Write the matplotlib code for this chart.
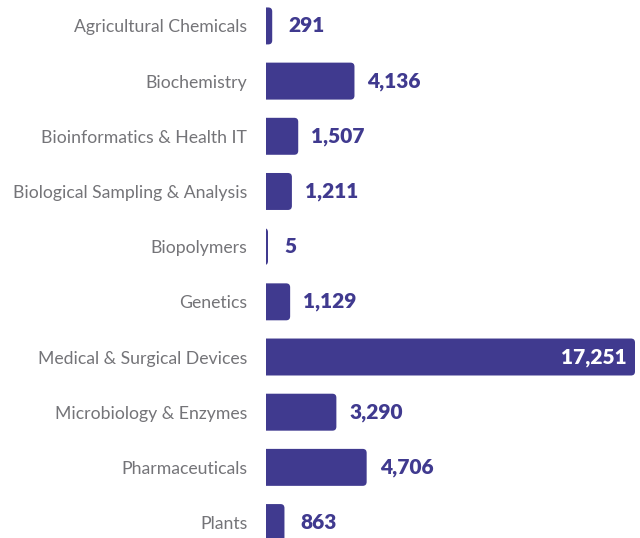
import matplotlib.pyplot as plt
from matplotlib.patches import FancyBboxPatch

purple = "#403a8f"
grey = "#747478"

categories = ["Agricultural Chemicals", "Biochemistry", "Bioinformatics & Health IT",
              "Biological Sampling & Analysis", "Biopolymers", "Genetics",
              "Medical & Surgical Devices", "Microbiology & Enzymes",
              "Pharmaceuticals", "Plants"]
counts = [291, 4136, 1507, 1211, 5, 1129, 17251, 3290, 4706, 863]

plt.rcParams['font.family'] = ['Lato', 'DejaVu Sans']

fig = plt.figure(figsize=(6.4, 5.38), dpi=100)
ax = fig.add_axes([266/640, 0, 374/640, 1])

ypos = list(range(len(categories)))
bar_h = 0.67
xmax = max(counts) * 374 / 369
ax.set_xlim(0, xmax)
ax.set_ylim(9.28, -0.47)

# rounded right corners: box starts left of 0 so the left rounding is clipped
px_x = xmax / 374
px_y = 1 / 55.2
rad = 4 * px_x
for y, v in zip(ypos, counts):
    width = max(v, 2 * px_x)
    box = FancyBboxPatch((-rad * 2, y - bar_h / 2), width + rad * 2, bar_h,
                         boxstyle=f"round,pad=0,rounding_size={rad}",
                         mutation_aspect=px_y / px_x,
                         facecolor=purple, edgecolor="none")
    ax.add_patch(box)
    if v == max(counts):
        ax.annotate(f"{v:,}", (v, y), xytext=(-8, 0), textcoords="offset pixels",
                    ha="right", va="center", color="white", fontsize=15,
                    fontweight="heavy")
    else:
        off = 16 if v < 1000 else 13
        ax.annotate(f"{v:,}", (width, y), xytext=(off, 0), textcoords="offset pixels",
                    ha="left", va="center", color=purple, fontsize=15,
                    fontweight="heavy")

ax.set_yticks(ypos)
ax.set_yticklabels(categories, fontsize=12.7, color=grey)
ax.tick_params(axis="y", length=0, pad=13.5)
ax.set_xticks([])
for s in ax.spines.values():
    s.set_visible(False)

fig.savefig("out.png", dpi=100)
